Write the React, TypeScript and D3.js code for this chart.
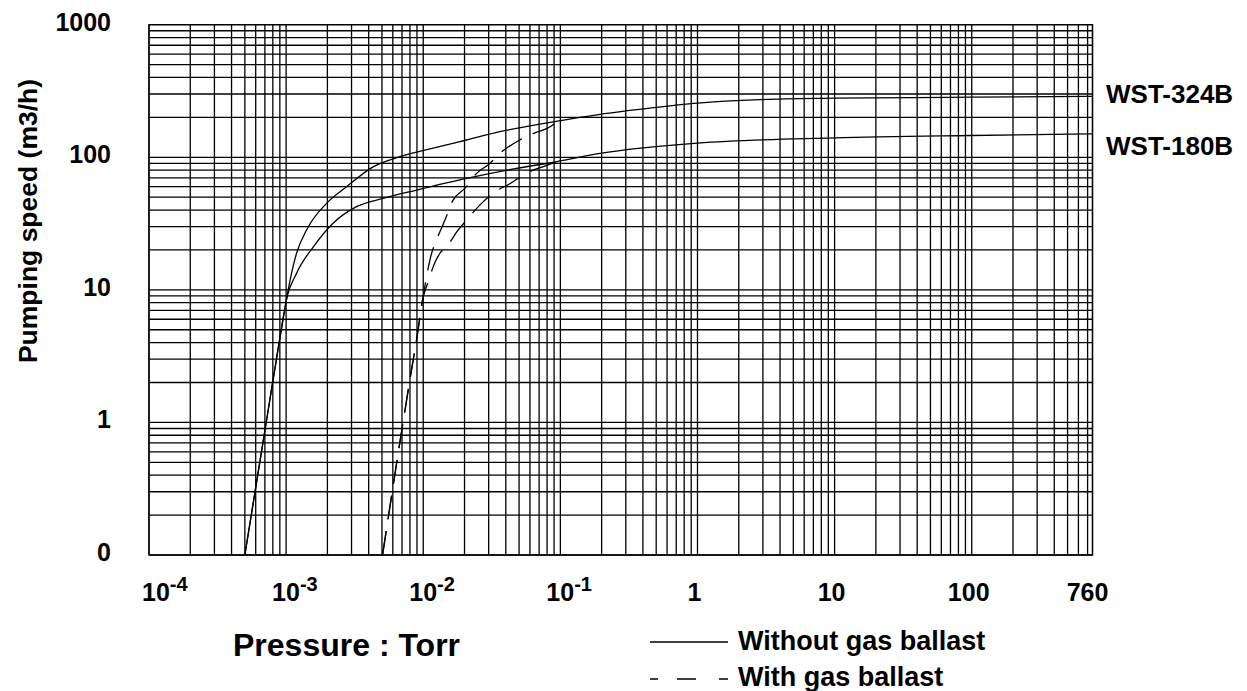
import React from "react";
import * as d3 from "d3";

// ---- Data ----
// Pressure (Torr) and pumping speed (m3/h)
const solid324P = [5.0e-4, 7.6e-4, 8.5e-4, 9.3e-4, 1.0e-3, 1.07e-3, 1.19e-3, 1.41e-3, 1.97e-3, 2.76e-3, 4.31e-3, 6.75e-3, 1.18e-2, 2.07e-2, 3.62e-2, 8.85e-2, 0.194, 0.45, 1.0, 2.84, 10, 100, 760];
const solid324S = [0.1, 1.47, 3.0, 5.3, 8.2, 11.9, 18.8, 28.3, 44.9, 60, 84.7, 101, 117, 135, 156, 185, 211, 235, 256, 272, 279, 284, 288];

const solid180P = [5.0e-4, 7.6e-4, 8.5e-4, 9.3e-4, 1.0e-3, 1.19e-3, 1.58e-3, 2.2e-3, 3.26e-3, 5.1e-3, 8.94e-3, 2.07e-2, 4.79e-2, 9.37e-2, 0.194, 1.0, 10, 100, 760];
const solid180S = [0.1, 1.47, 3.0, 5.3, 8.2, 13.3, 21.1, 31.8, 42.4, 49, 56.6, 69.3, 82.4, 92.5, 107, 128, 140, 146, 150];

const dashed324P = [5.05e-3, 7.56e-3, 8.44e-3, 8.94e-3, 9.89e-3, 1.15e-2, 1.25e-2, 1.44e-2, 1.65e-2, 2.01e-2, 2.45e-2, 3.06e-2, 3.62e-2, 5.06e-2, 6.33e-2, 8.6e-2, 9.4e-2];
const dashed324S = [0.1, 1.47, 2.95, 4.2, 8.4, 18.8, 23.8, 33.6, 47.5, 58.2, 75.6, 89.9, 107, 135, 151, 172, 185];

const dashed180P = [5.05e-3, 7.56e-3, 8.44e-3, 8.94e-3, 9.89e-3, 1.1e-2, 1.18e-2, 1.32e-2, 1.48e-2, 1.8e-2, 2.07e-2, 2.73e-2, 3.23e-2, 4.52e-2, 5.35e-2, 7.7e-2, 9.4e-2];
const dashed180S = [0.1, 1.47, 2.95, 4.2, 8.4, 11.9, 14.9, 18.8, 21.1, 28.3, 33.6, 46.1, 53.5, 65.3, 73.5, 85.9, 92.5];

const xTickValues = [1e-4, 1e-3, 1e-2, 1e-1, 1, 10, 100, 760];
const xTickLabels = ["10^-4", "10^-3", "10^-2", "10^-1", "1", "10", "100", "760"];
const yTickValues = [0.1, 1, 10, 100, 1000];
const yTickLabels = ["0", "1", "10", "100", "1000"];

const seriesNames = ["WST-324B", "WST-180B"];
const legendLabels = ["Without gas ballast", "With gas ballast"];
const xTitle = "Pressure : Torr";
const yTitle = "Pumping speed (m3/h)";

const W = 1247;
const H = 691;
const FONT = "'Liberation Sans', Arial, Helvetica, sans-serif";

export default function App() {
  const x = d3.scaleLog().domain([1e-4, 760]).range([149, 1092.5]);
  const y = d3.scaleLog().domain([0.1, 1000]).range([555, 24.7]);

  const xGrid: number[] = x.ticks().filter((v) => v <= 760);
  if (xGrid[xGrid.length - 1] !== 760) xGrid.push(760);
  const yGrid: number[] = y.ticks();

  const line = d3
    .line<[number, number]>()
    .x((d) => x(d[0]))
    .y((d) => y(d[1]))
    .curve(d3.curveMonotoneX);

  const zip = (p: number[], s: number[]) => p.map((v, i) => [v, s[i]] as [number, number]);

  const solids = [zip(solid324P, solid324S), zip(solid180P, solid180S)];
  const dashes = [zip(dashed324P, dashed324S), zip(dashed180P, dashed180S)];

  const [x0, x1] = x.range();
  const [y0, y1] = y.range();

  return (
    <svg
      width={W}
      height={H}
      viewBox={`0 0 ${W} ${H}`}
      style={{ position: "absolute", left: 0, top: 0, background: "#fff" }}
      fontFamily={FONT}
      fontWeight="bold"
    >
      <rect x={0} y={0} width={W} height={H} fill="#fff" />
      {/* grid */}
      <g stroke="#000" strokeWidth={1.3}>
        {xGrid.map((v, i) => (
          <line key={"gx" + i} x1={x(v)} x2={x(v)} y1={y1} y2={y0} />
        ))}
        {yGrid.map((v, i) => (
          <line key={"gy" + i} x1={x0} x2={x1} y1={y(v)} y2={y(v)} />
        ))}
        <rect x={x0} y={y1} width={x1 - x0} height={y0 - y1} fill="none" />
      </g>

      {/* curves */}
      <g fill="none" stroke="#000" strokeWidth={1.3}>
        {solids.map((d, i) => (
          <path key={"s" + i} d={line(d) || ""} />
        ))}
        {dashes.map((d, i) => (
          <path key={"d" + i} d={line(d) || ""} strokeDasharray="24,12" />
        ))}
      </g>

      {/* y tick labels */}
      {yTickValues.map((v, i) => (
        <text key={"yt" + i} x={111} y={y(v) - 3} textAnchor="end" dominantBaseline="central" fontSize={25}>
          {yTickLabels[i]}
        </text>
      ))}

      {/* x tick labels */}
      {xTickValues.map((v, i) => {
        const lab = xTickLabels[i];
        const px = x(v);
        if (lab.includes("^")) {
          const [base, sup] = lab.split("^");
          const start = px - 14 + (i === 0 ? 7 : 0);
          return (
            <text key={"xt" + i} x={start} y={601} fontSize={25}>
              {base}
              <tspan fontSize={20} dy={-10}>
                {sup}
              </tspan>
            </text>
          );
        }
        return (
          <text key={"xt" + i} x={px - 3 - (v === 760 ? 2 : 0)} y={601} fontSize={25} textAnchor="middle">
            {lab}
          </text>
        );
      })}

      {/* series labels */}
      <text x={1106} y={y(solid324S[solid324S.length - 1]) + 7} fontSize={26}>
        {seriesNames[0]}
      </text>
      <text x={1106} y={y(solid180S[solid180S.length - 1]) + 21} fontSize={26}>
        {seriesNames[1]}
      </text>

      {/* axis titles */}
      <text x={233} y={656} fontSize={32}>
        {xTitle}
      </text>
      <text transform="translate(37,221) rotate(-90)" textAnchor="middle" fontSize={26.5}>
        {yTitle}
      </text>

      {/* legend */}
      <line x1={650} x2={728} y1={642} y2={642} stroke="#000" strokeWidth={1.3} />
      <text x={738} y={650} fontSize={27}>
        {legendLabels[0]}
      </text>
      <line x1={650} x2={728} y1={679} y2={679} stroke="#000" strokeWidth={1.3} strokeDasharray="8,19,19,23,9" />
      <text x={738} y={686} fontSize={27}>
        {legendLabels[1]}
      </text>
    </svg>
  );
}
